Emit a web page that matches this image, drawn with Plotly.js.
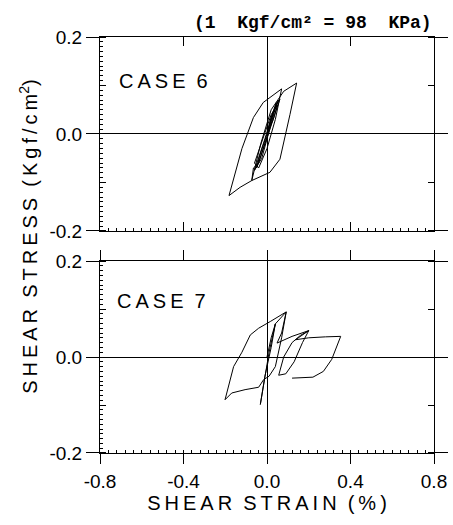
<!DOCTYPE html>
<html>
<head>
<meta charset="utf-8">
<script src="https://cdn.plot.ly/plotly-3.0.1.min.js"></script>
<style>html,body{margin:0;padding:0;background:#fff;}#chart{width:453px;height:525px;}</style>
</head>
<body>
<div id="chart"></div>
<script>
// Case 6 hysteresis loops (shear strain %, shear stress kgf/cm2)
var case6Strain = [0.0, 0.02, 0.045, 0.03, 0.0, -0.03, -0.05, -0.035, 0.0, 0.03, 0.055, 0.035, 0.005, -0.025, -0.06, -0.04, -0.01, 0.025, 0.05, 0.062, 0.03, 0.0, -0.04, -0.065, -0.073, -0.03, 0.02, 0.08, 0.142, 0.11, 0.062, 0.014, -0.073, -0.129, -0.182, -0.12, -0.065, -0.018, 0.07, 0.04, 0.0, -0.04, -0.06, -0.02, 0.02, 0.05, 0.03, 0.0];
var case6Stress = [0.0, 0.035, 0.065, 0.04, -0.005, -0.045, -0.07, -0.045, 0.0, 0.045, 0.07, 0.045, 0.0, -0.05, -0.075, -0.05, -0.01, 0.04, 0.065, 0.072, 0.03, -0.01, -0.06, -0.07, -0.096, -0.02, 0.05, 0.088, 0.105, 0.04, -0.052, -0.079, -0.096, -0.110, -0.127, -0.03, 0.034, 0.065, 0.093, 0.03, -0.03, -0.07, -0.06, -0.01, 0.04, 0.06, 0.03, 0.0];

// Case 7 hysteresis loops
var case7Strain = [0.0, 0.02, 0.04, 0.02, -0.01, -0.032, -0.015, 0.01, 0.04, 0.092, 0.07, 0.04, 0.01, -0.016, -0.04, -0.105, -0.169, -0.201, -0.16, -0.12, -0.08, -0.04, 0.016, 0.092, 0.07, 0.048, 0.12, 0.20, 0.17, 0.13, 0.09, 0.056, 0.08, 0.12, 0.16, 0.20, 0.137, 0.20, 0.28, 0.353, 0.31, 0.27, 0.22, 0.12];
var case7Stress = [0.0, 0.04, 0.069, 0.02, -0.04, -0.099, -0.05, 0.01, 0.069, 0.094, 0.04, -0.02, -0.04, -0.047, -0.063, -0.068, -0.075, -0.089, -0.02, 0.01, 0.046, 0.060, 0.074, 0.094, 0.05, 0.029, 0.043, 0.055, 0.03, -0.01, -0.035, -0.038, 0.0, 0.03, 0.045, 0.055, 0.036, 0.040, 0.042, 0.043, -0.005, -0.03, -0.042, -0.044];

var xTickVals = [-0.8, -0.4, 0.0, 0.4, 0.8];
var xTickText = ['-0.8', '-0.4', '0.0', '0.4', '0.8'];
var yTickVals = [-0.2, 0.0, 0.2];
var yTickText = ['-0.2', '0.0', '0.2'];

var FONT = 'Liberation Sans, Arial, sans-serif';
var HS = '\u2009';
function spaced(s) { return s.split('').join(HS); }

var traces = [
  {x: case6Strain, y: case6Stress, xaxis: 'x', yaxis: 'y', mode: 'lines',
   line: {color: '#000', width: 1}, hoverinfo: 'skip'},
  {x: case7Strain, y: case7Stress, xaxis: 'x2', yaxis: 'y2', mode: 'lines',
   line: {color: '#000', width: 1}, hoverinfo: 'skip'},
  {x: [-5], y: [-5], xaxis: 'x3', yaxis: 'y3', mode: 'markers', marker: {size: 1, color: 'rgba(0,0,0,0)'}, hoverinfo: 'skip'},
  {x: [-5], y: [-5], xaxis: 'x4', yaxis: 'y4', mode: 'markers', marker: {size: 1, color: 'rgba(0,0,0,0)'}, hoverinfo: 'skip'}
];

function xAxis(anchor, labels) {
  return {
    anchor: anchor, domain: [0, 1], range: [-0.8, 0.8],
    tickmode: 'array', tickvals: xTickVals, ticktext: xTickText,
    showticklabels: labels, ticks: labels ? 'outside' : 'inside', ticklen: labels ? 10 : 9, tickcolor: '#000',
    ticklabelstandoff: 1,
    showline: true, linecolor: '#000', linewidth: 1, mirror: 'ticks',
    showgrid: false, zeroline: true, zerolinecolor: '#000', zerolinewidth: 1,
    tickfont: {family: FONT, size: 19, color: '#000'}
  };
}
function yAxis(anchor, domain) {
  return {
    anchor: anchor, domain: domain, range: [-0.2, 0.2],
    tickmode: 'array', tickvals: yTickVals, ticktext: yTickText,
    ticks: 'outside', ticklen: 13, tickcolor: '#000',
    minor: {dtick: 0.1, ticks: 'inside', ticklen: 6, tickcolor: '#000', showgrid: false},
    showline: true, linecolor: '#000', linewidth: 1, mirror: 'ticks',
    showgrid: false, zeroline: true, zerolinecolor: '#000', zerolinewidth: 1,
    tickfont: {family: FONT, size: 19, color: '#000'}
  };
}
// fine dotted tick marks along bottom and left edges
function fineX(over, anchor, dom) {
  return {overlaying: over, anchor: anchor, side: 'bottom', range: [-0.8, 0.8], domain: [0, 1],
    tickmode: 'linear', tick0: 0, dtick: 0.04, ticks: 'inside', ticklen: 3, tickwidth: 1, tickcolor: '#000',
    showticklabels: false, showline: false, showgrid: false, zeroline: false};
}
function fineY(over, anchor, dom) {
  return {overlaying: over, anchor: anchor, side: 'left', range: [-0.2, 0.2], domain: dom,
    tickmode: 'linear', tick0: 0, dtick: 0.01, ticks: 'inside', ticklen: 3, tickwidth: 1, tickcolor: '#000',
    showticklabels: false, showline: false, showgrid: false, zeroline: false};
}

var xa2 = xAxis('y2', true);
xa2.title = {text: spaced('SHEAR') + '  ' + spaced('STRAIN') + '  ' + spaced('(%)'),
             font: {family: FONT, size: 20, color: '#000'}, standoff: 0};

var layout = {
  width: 453, height: 525,
  margin: {l: 100, r: 19, t: 37, b: 72},
  paper_bgcolor: '#fff', plot_bgcolor: '#fff',
  showlegend: false,
  xaxis: xAxis('y', false),
  yaxis: yAxis('x', [0.5337, 1.0]),
  xaxis2: xa2,
  yaxis2: yAxis('x2', [0.0, 0.4615]),
  xaxis3: fineX('x', 'y3'),
  yaxis3: fineY('y', 'x3', [0.5337, 1.0]),
  xaxis4: fineX('x2', 'y4'),
  yaxis4: fineY('y2', 'x4', [0.0, 0.4615]),
  annotations: [
    {text: '(1  Kgf/cm² = 98  KPa)', xref: 'paper', yref: 'paper', x: 1.0, y: 1.0,
     xanchor: 'right', yanchor: 'bottom', yshift: 2, showarrow: false,
     font: {family: 'Liberation Mono, DejaVu Sans Mono, monospace', size: 18, color: '#000', weight: 'bold'}},
    {text: spaced('CASE') + '  6', xref: 'x domain', yref: 'y domain', x: 0.05, y: 0.775,
     xanchor: 'left', yanchor: 'middle', showarrow: false,
     font: {family: FONT, size: 20, color: '#000'}},
    {text: spaced('CASE') + '  7', xref: 'x2 domain', yref: 'y2 domain', x: 0.045, y: 0.79,
     xanchor: 'left', yanchor: 'middle', showarrow: false,
     font: {family: FONT, size: 20, color: '#000'}},
    {text: spaced('SHEAR') + '  ' + spaced('STRESS') + '  ' + spaced('(Kgf/cm') + '<sup>2</sup>)', xref: 'paper', yref: 'paper',
     x: -0.215, y: 0.52, xanchor: 'center', yanchor: 'middle', textangle: -90,
     showarrow: false, font: {family: FONT, size: 20, color: '#000'}}
  ]
};

Plotly.newPlot('chart', traces, layout, {displayModeBar: false, staticPlot: true});
</script>
</body>
</html>
